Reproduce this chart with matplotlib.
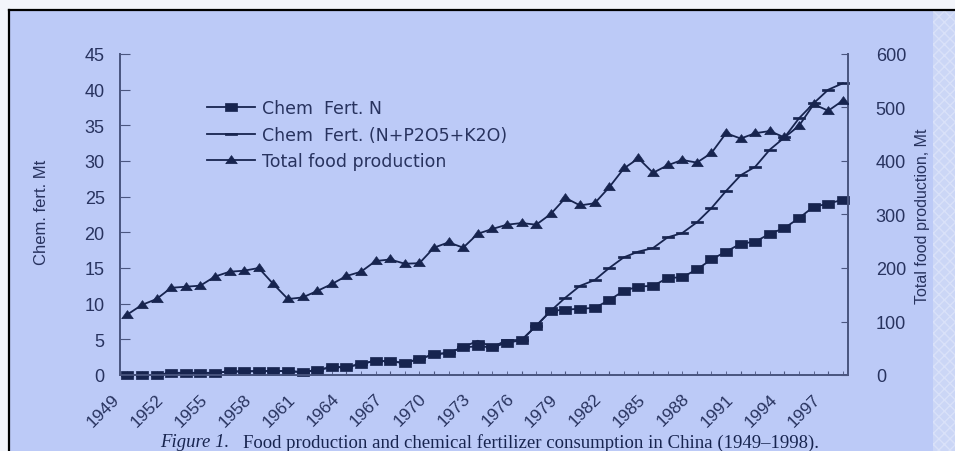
import numpy as np
import matplotlib.pyplot as plt
import matplotlib.transforms as mtransforms
from matplotlib.patches import Rectangle
from matplotlib.lines import Line2D

# ---- data ----
years = np.arange(1949, 1999)

# nitrogen fertilizer, Mt
n_fert = [0.0, 0.0, 0.0, 0.3, 0.3, 0.3, 0.3, 0.5, 0.5, 0.55,
          0.55, 0.55, 0.4, 0.7, 1.1, 1.1, 1.55, 2.0, 1.9, 1.7,
          2.25, 2.9, 3.1, 3.9, 4.0, 3.9, 4.5, 4.9, 6.9, 9.0,
          9.15, 9.3, 9.4, 10.5, 11.8, 12.4, 12.5, 13.6, 13.7, 14.8,
          16.2, 17.3, 18.4, 18.7, 19.8, 20.6, 22.0, 23.6, 24.0, 24.6]

# N + P2O5 + K2O, Mt
npk_fert = [0.0, 0.0, 0.0, 0.3, 0.3, 0.3, 0.3, 0.5, 0.5, 0.55,
            0.55, 0.55, 0.4, 0.7, 1.1, 1.1, 1.55, 2.0, 1.9, 1.7,
            2.25, 2.9, 3.1, 3.9, 4.8, 3.9, 4.9, 4.9, 6.9, 9.0,
            10.85, 12.5, 13.3, 15.0, 16.5, 17.3, 17.8, 19.3, 19.9, 21.4,
            23.4, 25.8, 28.0, 29.2, 31.6, 33.3, 36.0, 38.1, 40.0, 40.9]

# total food production, Mt
food = [113, 131, 142, 163, 165, 167, 184, 193, 195, 200,
        170, 142, 145, 157, 170, 185, 193, 213, 216, 208,
        209, 238, 248, 238, 264, 273, 281, 284, 281, 301,
        331, 317, 321, 351, 386, 405, 378, 392, 402, 397,
        415, 452, 442, 452, 456, 444, 466, 506, 494, 513]

labels = ["Chem  Fert. N", "Chem  Fert. (N+P2O5+K2O)", "Total food production"]

# ---- style ----
BG = "#bccaf7"
INK = "#17244f"
TXT = "#28335f"
SPINE = "#4b5680"

W, H = 955, 452
fig = plt.figure(figsize=(W / 100, H / 100), dpi=100, facecolor="#f3f5fb")

# blue panel with black frame on top and left
fig.patches.append(Rectangle((9 / W, 0), (933 - 9) / W, (H - 11) / H,
                             transform=fig.transFigure, facecolor=BG,
                             edgecolor="none", zorder=-2))
fig.patches.append(Rectangle((933 / W, 0), (W - 933) / W, (H - 11) / H,
                             transform=fig.transFigure, facecolor="#cbd6f6",
                             edgecolor="#d9e1f9", hatch="xxx", lw=0, zorder=-2))
fig.add_artist(Line2D([9 / W, 9 / W], [0, (H - 11) / H], color="black",
                      lw=1.6, transform=fig.transFigure, zorder=-1))
fig.add_artist(Line2D([9 / W, 1], [(H - 11) / H] * 2, color="black",
                      lw=1.6, transform=fig.transFigure, zorder=-1))

ax = fig.add_axes([120 / W, 76 / H, (848 - 120) / W, (376 - 55) / H])
ax.set_facecolor("none")
ax2 = ax.twinx()

# flattened marker shapes
sq = [(-1, -0.7), (1, -0.7), (1, 0.7), (-1, 0.7), (-1, -0.7)]
tri = [(-1, -0.55), (1, -0.55), (0, 0.85), (-1, -0.55)]
dash = [(-1, -0.2), (1, -0.2), (1, 0.2), (-1, 0.2), (-1, -0.2)]

h_npk, = ax.plot(years, npk_fert, color=INK, lw=1.3, marker=dash, ms=8,
                 mfc=INK, mec=INK, mew=0.5, zorder=2, clip_on=False)
h_n, = ax.plot(years, n_fert, color=INK, lw=1.3, marker=sq, ms=9.2,
               mfc=INK, mec=INK, mew=0.5, zorder=3, clip_on=False)
h_food, = ax2.plot(years, food, color=INK, lw=1.3, marker=tri, ms=8.3,
                   mfc=INK, mec=INK, mew=0.5, zorder=3)

ax.set_xlim(1948.5, 1998.35)
ax.set_ylim(0, 45)
ax2.set_ylim(0, 600)
ax.set_yticks(range(0, 46, 5))
ax2.set_yticks(range(0, 601, 100))
ax.set_xticks(years[::3])
ax.set_xticks(years, minor=True)

ax.tick_params(axis="x", which="both", direction="in", length=3,
               color=SPINE, pad=15)
ax.tick_params(axis="y", direction="in", length=7, color=SPINE, pad=11,
               labelsize=13, labelcolor=TXT)
ax2.tick_params(axis="y", direction="in", length=5, color=SPINE, pad=20,
                labelsize=13, labelcolor=TXT)
for t in ax.get_yticklabels() + ax2.get_yticklabels():
    t.set_family("Liberation Sans")

ax.set_xticklabels([str(y) for y in years[::3]], rotation=45, ha="right",
                   va="center", rotation_mode="anchor",
                   family="Liberation Sans", fontsize=12.5, color=TXT)
# nudge the slanted year labels left of their ticks
shift = mtransforms.ScaledTranslation(-0.1, 0, fig.dpi_scale_trans)
for lab in ax.get_xticklabels():
    lab.set_transform(lab.get_transform() + shift)

for a in (ax, ax2):
    a.spines["top"].set_visible(False)
    for s in ("left", "right", "bottom"):
        a.spines[s].set_color(SPINE)
        a.spines[s].set_linewidth(1.3)

fig.text(42 / W, 1 - 212 / H, "Chem. fert. Mt", rotation=90, ha="center",
         va="center", family="Liberation Sans", fontsize=12, color=TXT)
fig.text(922 / W, 1 - 216 / H, "Total food production, Mt", rotation=90,
         ha="center", va="center", family="Liberation Sans", fontsize=11.5,
         color=TXT)

ax.legend([h_n, h_npk, h_food], labels, loc="upper left",
          bbox_to_anchor=(207 / W, 1 - 100 / H), bbox_transform=fig.transFigure,
          frameon=False, borderpad=0, borderaxespad=0, handlelength=2.75,
          handletextpad=0.4, labelspacing=0.5,
          prop={"family": "DejaVu Sans", "size": 12.5}, labelcolor=TXT)

# caption
cap_y = 1 - 443 / H
fig.text(160 / W, cap_y, "Figure 1.", style="italic", family="Liberation Serif",
         fontsize=13.5, color=INK, ha="left", va="center")
fig.text(243 / W, cap_y,
         "Food production and chemical fertilizer consumption in China (1949\u20131998).",
         family="Liberation Serif", fontsize=13.5, color=INK, ha="left",
         va="center")

fig.savefig("out.png", dpi=100, facecolor=fig.get_facecolor())
